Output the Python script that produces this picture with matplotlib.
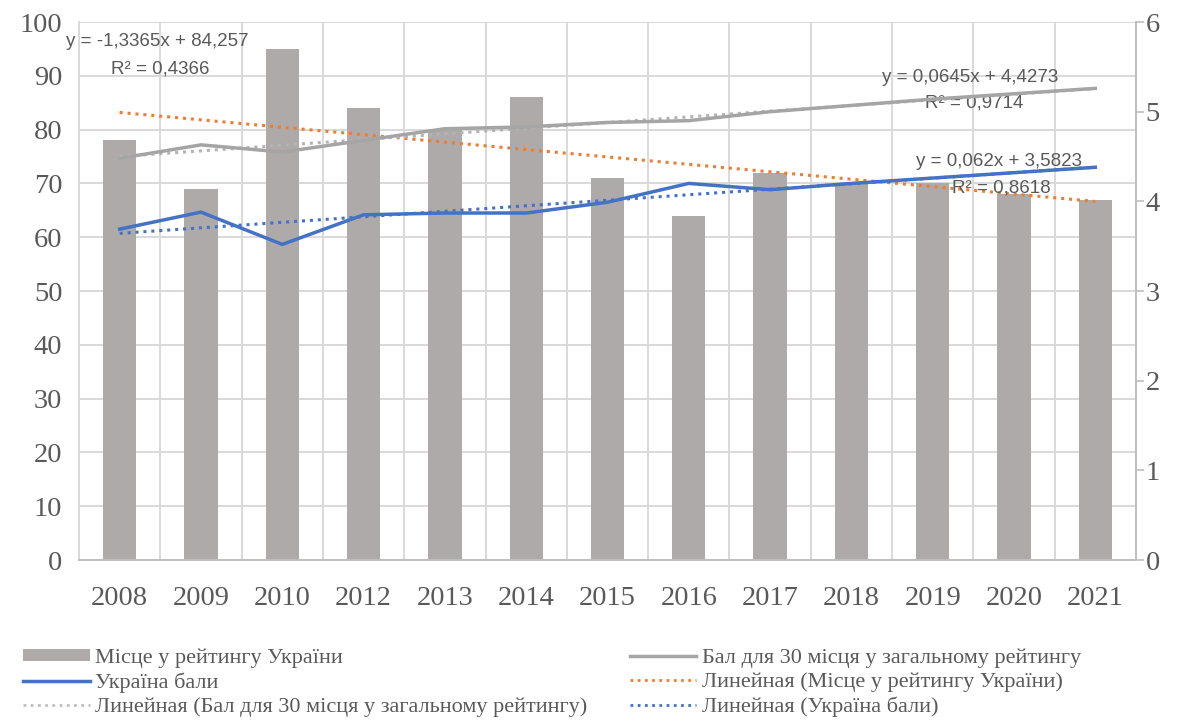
import matplotlib.pyplot as plt
import numpy as np
from matplotlib.patches import Patch
from matplotlib.lines import Line2D

# дані з графіка
years = ['2008', '2009', '2010', '2012', '2013', '2014', '2015',
         '2016', '2017', '2018', '2019', '2020', '2021']
place = [78, 69, 95, 84, 80, 86, 71, 64, 72, 70, 70, 68, 67]
score_30 = [4.48, 4.63, 4.55, 4.68, 4.81, 4.83, 4.88, 4.90, 5.00, 5.07, 5.14, 5.20, 5.26]
score_ua = [3.69, 3.88, 3.52, 3.85, 3.87, 3.87, 3.99, 4.20, 4.13, 4.20, 4.26, 4.32, 4.38]

eq_place = ['y = -1,3365x + 84,257', 'R² = 0,4366']
eq_30 = ['y = 0,0645x + 4,4273', 'R² = 0,9714']
eq_ua = ['y = 0,062x + 3,5823', 'R² = 0,8618']

lbl_place = 'Місце у рейтингу України'
lbl_30 = 'Бал для 30 місця у загальному рейтингу'
lbl_ua = 'Україна бали'
lbl_tr_place = 'Линейная (Місце у рейтингу України)'
lbl_tr_30 = 'Линейная (Бал для 30 місця у загальному рейтингу)'
lbl_tr_ua = 'Линейная (Україна бали)'

bar_c = '#ADAAA9'
gray_c = '#A5A5A5'
blue_c = '#4472C4'
orange_c = '#ED7D31'
grid_c = '#D9D9D9'
txt_c = '#595959'

serif = ['Liberation Serif', 'DejaVu Serif']
sans = ['Liberation Sans', 'DejaVu Sans']

fig = plt.figure(figsize=(11.79, 7.2), dpi=100)
ax = fig.add_axes([0.067, 0.2222, 0.8965, 0.7472])
ax2 = ax.twinx()

x = np.arange(len(years))
k = x + 1  # Excel нумерує точки з 1

ax.bar(x, place, width=0.41, color=bar_c, zorder=2)

# лінійні тренди
dots = (0, (1, 1.6))
c1 = np.polyfit(k, place, 1)
ax.plot(x, np.polyval(c1, k), color=orange_c, lw=2.2, ls=dots, zorder=3)

c2 = np.polyfit(k, score_30, 1)
c3 = np.polyfit(k, score_ua, 1)
ax2.plot(x, np.polyval(c2, k), color='#B4B4B4', lw=2.2, ls=dots)
ax2.plot(x, np.polyval(c3, k), color=blue_c, lw=2.2, ls=dots)
ax2.plot(x, score_30, color=gray_c, lw=2.5)
ax2.plot(x, score_ua, color=blue_c, lw=2.5)

ax.set_xlim(-0.5, len(years) - 0.5)
ax.set_ylim(0, 100)
ax2.set_ylim(0, 6)

ax.set_xticks(x)
ax.set_xticklabels(years)
ax.set_xticks(np.arange(-0.5, len(years), 1), minor=True)
ax.set_yticks(range(0, 101, 10))
ax2.set_yticks(range(0, 7))

ax.set_axisbelow(True)
ax.grid(which='minor', axis='x', color=grid_c, lw=1.4)
ax.grid(which='major', axis='y', color=grid_c, lw=1.4)
ax.grid(which='major', axis='x', visible=False)

ax.tick_params(axis='x', which='both', length=0, pad=19, labelsize=20.5, labelcolor=txt_c)
ax.tick_params(axis='y', length=0, pad=12, labelsize=20.5, labelcolor=txt_c)
ax2.tick_params(axis='y', length=6, width=1.2, color='#BFBFBF', pad=1,
                labelsize=20.5, labelcolor=txt_c)
for lab in ax.get_xticklabels() + ax.get_yticklabels() + ax2.get_yticklabels():
    lab.set_family(serif)

for a in (ax, ax2):
    for s in a.spines.values():
        s.set_visible(False)
ax.spines['left'].set_visible(True)
ax.spines['left'].set_color(grid_c)
ax.spines['left'].set_linewidth(1.4)
ax.spines['bottom'].set_visible(True)
ax.spines['bottom'].set_color('#BFBFBF')
ax.spines['bottom'].set_linewidth(1.4)
ax2.spines['right'].set_visible(True)
ax2.spines['right'].set_color('#BFBFBF')
ax2.spines['right'].set_linewidth(1.4)

# рівняння трендів
eq_kw = dict(transform=ax.transAxes, fontsize=13.5, color=txt_c, family=sans,
             va='center', ha='left', zorder=5)
ax.text(-0.012, 0.963, eq_place[0], **eq_kw)
ax.text(0.030, 0.913, eq_place[1], **eq_kw)
ax.text(0.760, 0.896, eq_30[0], **eq_kw)
ax.text(0.800, 0.849, eq_30[1], **eq_kw)
ax.text(0.792, 0.740, eq_ua[0], **eq_kw)
ax.text(0.826, 0.691, eq_ua[1], **eq_kw)

handles = [
    Patch(facecolor=bar_c, edgecolor='none'),
    Line2D([], [], color=blue_c, lw=2.5),
    Line2D([], [], color='#BFBFBF', lw=2, ls=dots),
    Line2D([], [], color=gray_c, lw=2.5),
    Line2D([], [], color=orange_c, lw=2, ls=dots),
    Line2D([], [], color=blue_c, lw=2, ls=dots),
]
labels = [lbl_place, lbl_ua, lbl_tr_30, lbl_30, lbl_tr_place, lbl_tr_ua]
leg = fig.legend(handles, labels, ncol=2, loc='upper left',
                 bbox_to_anchor=(0.010, 0.115), frameon=False,
                 prop={'family': serif, 'size': 16}, labelcolor=txt_c,
                 handlelength=3.0, handleheight=0.5, handletextpad=0.25,
                 labelspacing=0.2, columnspacing=1.9, borderpad=0)

fig.savefig('out.png', dpi=100, facecolor='white')
